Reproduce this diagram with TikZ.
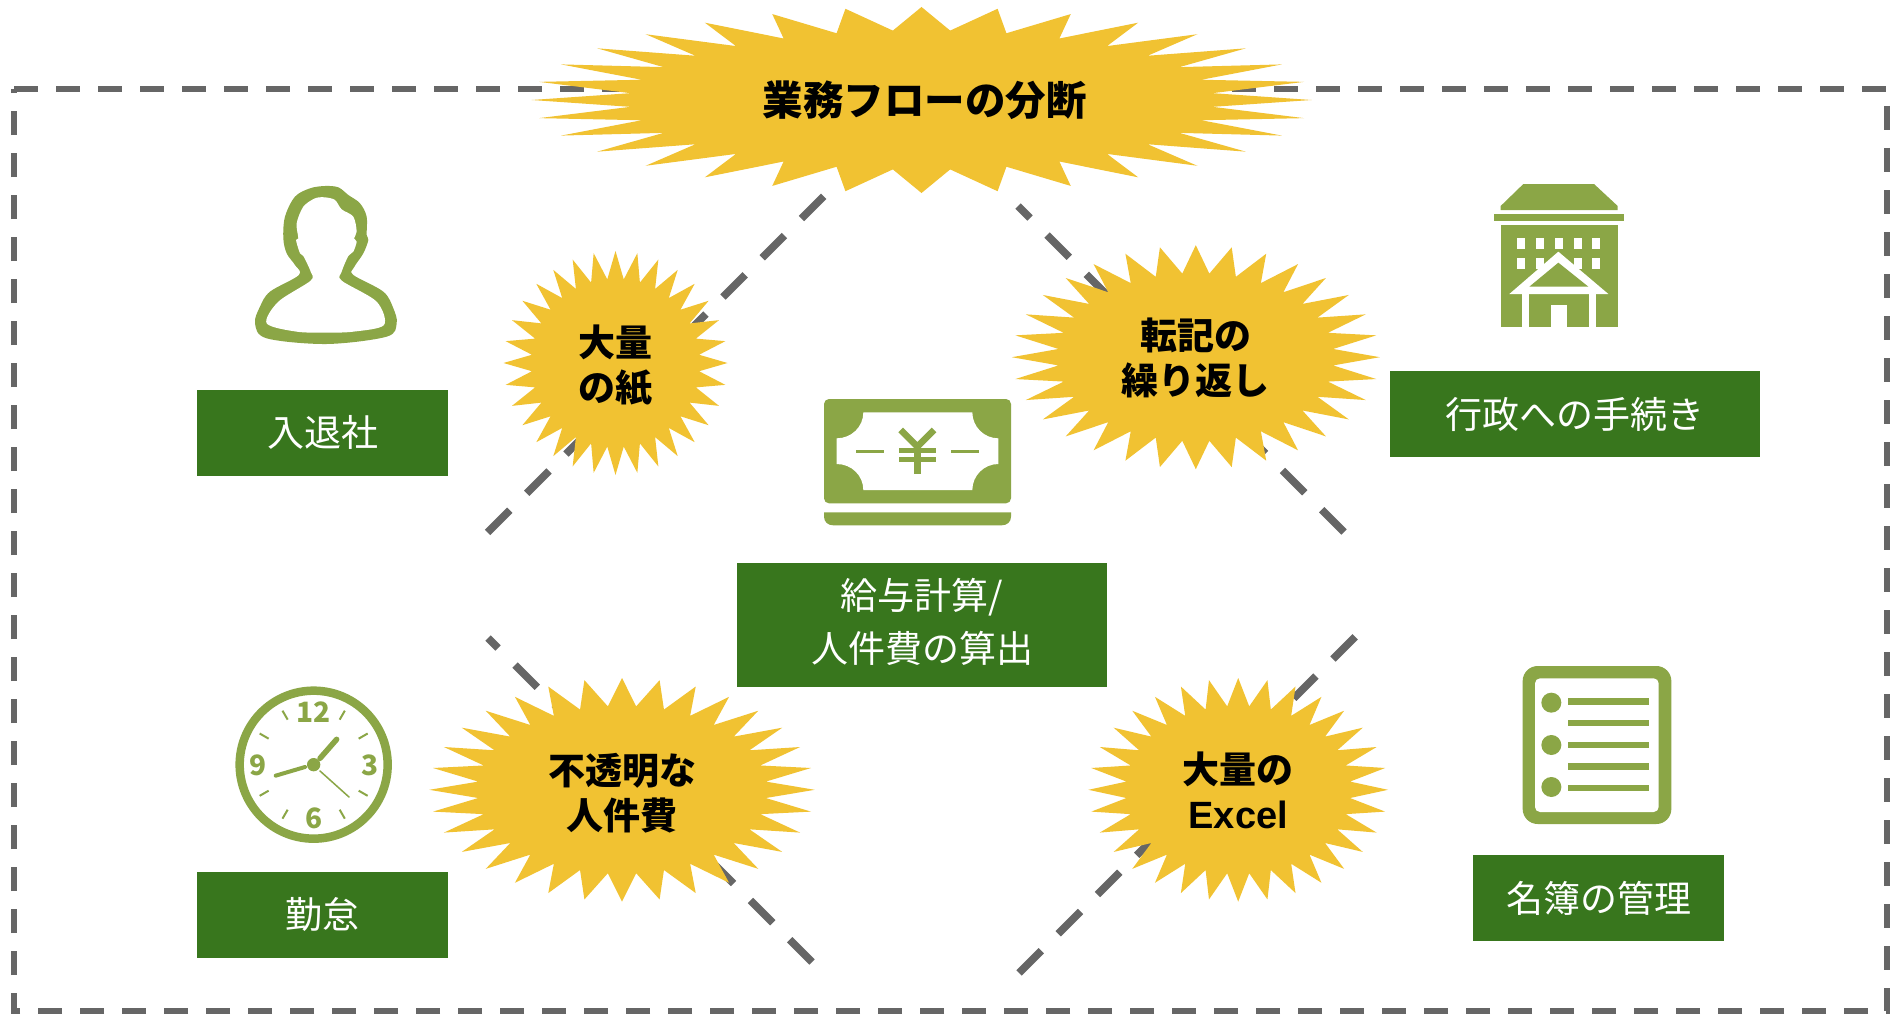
\documentclass[tikz,border=0pt]{standalone}
\usepackage{fontspec}
\usetikzlibrary{calc}
\setmainfont{Noto Sans CJK JP}
\newfontfamily\latinb{Liberation Sans}
\definecolor{burstc}{HTML}{F1C232}
\definecolor{boxc}{HTML}{38761D}
\definecolor{iconc}{HTML}{8BA646}
\definecolor{dashc}{HTML}{666666}
\newcommand{\burst}[4]{\fill[burstc] plot[samples at={0,...,63},variable=\k]
  ({#1+#2*(1-0.25*mod(\k,2))*cos(\k*5.625)},{#3+#4*(1-0.25*mod(\k,2))*sin(\k*5.625)}) -- cycle;}
\tikzset{
  framedash/.style={draw=dashc,line width=6pt,dash pattern=on 24pt off 18pt},
  diagdash/.style={draw=dashc,line width=7.5pt,dash pattern=on 31.5pt off 24pt},
  labelbox/.style={fill=boxc,text=white,inner sep=0pt,align=center,font=\fontsize{37}{51}\selectfont},
  labeltext/.style={text=white,inner sep=0pt,align=center,font=\fontsize{37}{53}\selectfont},
  burstlabel/.style={text=black,inner sep=0pt,align=center,font=\bfseries\fontsize{37}{45}\selectfont},
  icon/.style={fill=iconc,draw=none},
  iconline/.style={draw=iconc,line cap=round},
  zoomed/.style={x=0.33333pt,y=-0.33333pt},
  hole/.style={fill=white,draw=none}
}
\begin{document}
\begin{tikzpicture}[x=1pt,y=-1pt]
\useasboundingbox (0,0) rectangle (1894,1014);
\fill[white] (0,0) rectangle (1894,1014);
% frame
\draw[framedash] (14,89) -- (1887,89) -- (1887,1011) -- (14,1011) -- cycle;
% diagonal ends
\coordinate (ulA) at (487.5,532.5);
\coordinate (ulB) at (826,194);
\coordinate (urA) at (1344,532);
\coordinate (urB) at (1018,206);
\coordinate (llA) at (812,962);
\coordinate (llB) at (488,638);
\coordinate (lrA) at (1019,973);
\coordinate (lrB) at (1356,636);
\draw[diagdash] (ulA) -- (ulB);
\draw[diagdash] (urA) -- (urB);
\draw[diagdash] (llA) -- (llB);
\draw[diagdash] (lrA) -- (lrB);
% bursts
\burst{921.5}{390}{100}{93}
\burst{615.5}{112}{363}{112}
\burst{1195.8}{184}{357.2}{112}
\burst{622}{192.7}{789.8}{111.8}
\burst{1238.2}{149.8}{789.8}{111.8}
\node[burstlabel,font=\bfseries\fontsize{40.5}{48}\selectfont] (tBig) at (924.5,100) {業務フローの分断};
\node[burstlabel] (tPaper) at (615.5,366) {大量\\の紙};
\node[burstlabel] (tCopy) at (1195.8,358) {転記の\\繰り返し};
\node[burstlabel] (tCost) at (622,793) {不透明な\\人件費};
\node[burstlabel] (tExcel) at (1238.2,790) {大量の\\{\latinb\fontsize{38}{45}\selectfont Excel}};
% boxes
\node[labelbox,minimum width=251pt,minimum height=86pt] (bEntry) at (322.5,432.5) {入退社};
\node[labelbox,minimum width=251pt,minimum height=86pt] (bAtt) at (322.5,915) {勤怠};
\node[fill=boxc,inner sep=0pt,minimum width=370pt,minimum height=124pt] (bPay) at (922,625) {};
\node[labeltext] (tPay) at ([yshift=3pt]bPay.center) {給与計算/\\人件費の算出};
\node[labelbox,minimum width=370pt,minimum height=86pt] (bGov) at (1575,414) {行政への手続き};
\node[labelbox,minimum width=251pt,minimum height=86pt] (bRoster) at (1598.5,898) {名簿の管理};
% person icon
\begin{scope}[shift={(220,160)},zoomed]
\fill[icon] plot[smooth cycle,tension=0.55] coordinates {
 (315,78) (355,82) (385,105) (420,130) (440,170) (440,225) (445,240) (430,280) (402,322) (400,345)
 (490,395) (520,445) (530,490) (500,530) (320,552) (140,535) (105,490) (120,440) (150,395) (237,345)
 (225,315) (200,280) (190,235) (195,170) (225,110) (270,85)};
\fill[hole] plot[smooth cycle,tension=0.5] coordinates {
 (315,112) (345,120) (365,148) (400,170) (410,215) (402,235) (410,245) (400,275) (385,288) (365,335) (365,362)
 (470,425) (492,495) (400,515) (320,518) (230,515) (140,490) (175,425) (272,362) (272,335) (250,288) (240,280)
 (228,240) (235,235) (230,190) (250,140) (285,115)};
\end{scope}
% money icon
\begin{scope}[shift={(800,380)},zoomed]
\fill[icon,rounded corners=5pt] (72,57) rectangle (633,370);
\fill[hole] (190,97) -- (517,97) .. controls (517,140) and (552,175) .. (595,175) -- (595,252)
  .. controls (552,252) and (517,287) .. (517,330) -- (190,330)
  .. controls (190,287) and (155,252) .. (110,252) -- (110,175)
  .. controls (155,175) and (190,140) .. (190,97) -- cycle;
\fill[icon] (167,209) rectangle (252,219);
\fill[icon] (454,209) rectangle (538,219);
\draw[draw=iconc,line width=6.5pt] (302,150) -- (352,200) -- (402,150);
\draw[draw=iconc,line width=6.5pt] (352,198) -- (352,282);
\draw[draw=iconc,line width=5pt] (298,211) -- (407,211);
\draw[draw=iconc,line width=5pt] (298,238) -- (407,238);
\fill[icon] (72,397) -- (633,397) -- (633,410) .. controls (633,425) and (622,436) .. (605,436)
  -- (100,436) .. controls (83,436) and (72,425) .. (72,410) -- cycle;
\end{scope}
% clock icon
\begin{scope}[shift={(210,670)},zoomed]
\coordinate (cc) at (311,284);
\draw[draw=iconc,line width=8.5pt] (cc) circle (222);
\foreach \a in {30,60,120,150,210,240,300,330}
  \draw[draw=iconc,line width=2pt] ($(cc)+(\a:156)$) -- ($(cc)+(\a:187)$);
\fill[icon] (cc) circle (20);
\draw[iconline,line width=5.5pt] (330,265) -- (380,208);
\draw[iconline,line width=4pt] (285,291) -- (197,317);
\draw[iconline,line width=1.5pt] (330,303) -- (417,381);
\foreach \t/\px/\py in {12/311/125,3/480/285,6/311/445,9/145/285}
  \node[text=iconc,inner sep=0pt,font=\bfseries\fontsize{28}{28}\selectfont] at (\px,\py) {\t};
\end{scope}
% building icon
\begin{scope}[shift={(1470,170)},zoomed]
\fill[icon] (160,42) -- (372,42) -- (443,108) -- (443,120) -- (92,120) -- (92,108) -- cycle;
\fill[icon] (72,132) rectangle (462,152);
\fill[icon] (92,165) rectangle (443,470);
\foreach \wx in {142,198,255,311,367} {
  \fill[hole] (\wx,203) rectangle ++(24,33);
  \fill[hole] (\wx,265) rectangle ++(24,32);
}
\fill[hole] (118,372) -- (265,245) -- (415,372) -- cycle;
\fill[icon] (178,350) -- (265,278) -- (355,350) -- cycle;
\fill[hole] (155,372) rectangle (177,470);
\fill[hole] (357,372) rectangle (378,470);
\fill[hole] (243,405) rectangle (291,470);
\end{scope}
% list icon
\begin{scope}[shift={(1500,650)},zoomed]
\fill[icon,rounded corners=15pt] (68,48) rectangle (514,522);
\fill[hole,rounded corners=5pt] (105,85) rectangle (476,486);
\foreach \by in {158,285,411} \fill[icon] (154,\by) circle (30);
\foreach \ly in {154,219,285,349,414} \fill[icon] (205,\ly-10) rectangle (446,\ly+10);
\end{scope}
\end{tikzpicture}
\end{document}
